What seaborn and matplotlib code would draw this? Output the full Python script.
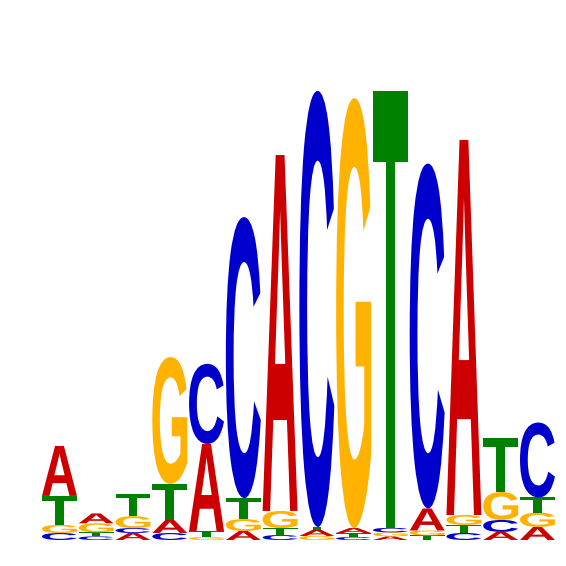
import numpy as np
import pandas as pd
import matplotlib
matplotlib.use("Agg")
import matplotlib.pyplot as plt
import seaborn as sns
from matplotlib.textpath import TextPath
from matplotlib.patches import PathPatch
from matplotlib.font_manager import FontProperties
from matplotlib.transforms import Affine2D

# Information content (bits) per letter at each motif position
positions = list(range(1, 15))
A_bits = [0.222, 0.044, 0.031, 0.058, 0.387, 0.040, 1.582, 0.027, 0.022, 0.016, 0.098, 1.667, 0.036, 0.058]
C_bits = [0.031, 0.016, 0.022, 0.031, 0.356, 1.249, 0.022, 1.938, 0.013, 0.020, 1.533, 0.031, 0.053, 0.333]
G_bits = [0.036, 0.040, 0.053, 0.564, 0.013, 0.053, 0.076, 0.018, 1.911, 0.018, 0.022, 0.044, 0.124, 0.064]
T_bits = [0.129, 0.018, 0.098, 0.160, 0.027, 0.093, 0.031, 0.013, 0.018, 1.942, 0.020, 0.036, 0.240, 0.067]
# stacking order of letters (bottom -> top) at each position
stack_order = ["CGTA", "CTGA", "ACGT", "CATG", "GTAC", "AGTC", "CTGA",
               "GATC", "CTAG", "AGCT", "TGAC", "CTGA", "ACGT", "AGTC"]

letters = ["A", "C", "G", "T"]
colors = {"A": "#CC0000", "C": "#0000CC", "G": "#FFB300", "T": "#008000"}

df = pd.DataFrame({"pos": positions, "A": A_bits, "C": C_bits, "G": G_bits,
                   "T": T_bits, "order": stack_order})

sns.set_theme(style="white")
plt.rcParams["font.family"] = ["Liberation Sans", "DejaVu Sans"]

fig = plt.figure(figsize=(5.66, 5.66), dpi=100)
ax = fig.add_axes([0, 0, 1, 1])
fp = FontProperties(family="Liberation Sans", weight="bold")

width = 0.95
glyphs = {L: TextPath((0, 0), L, size=1, prop=fp) for L in letters}


def draw_letter(L, xc, bottom, h):
    tp = glyphs[L]
    ext = tp.get_extents()
    tr = (Affine2D().translate(-ext.x0, -ext.y0)
          .scale(width / ext.width, h / ext.height)
          .translate(xc - width / 2, bottom))
    ax.add_patch(PathPatch(tr.transform_path(tp), facecolor=colors[L],
                           edgecolor="none", lw=0))


for _, row in df.iterrows():
    bottom = 0.0
    for L in row["order"]:
        h = row[L]
        if h > 0:
            draw_letter(L, row["pos"], bottom, h)
        bottom += h

ax.set_xlim(-0.617, 14.776)
ax.set_ylim(-0.1156, 2.4)
ax.axis("off")
fig.savefig("out.png", dpi=100, facecolor="white")
